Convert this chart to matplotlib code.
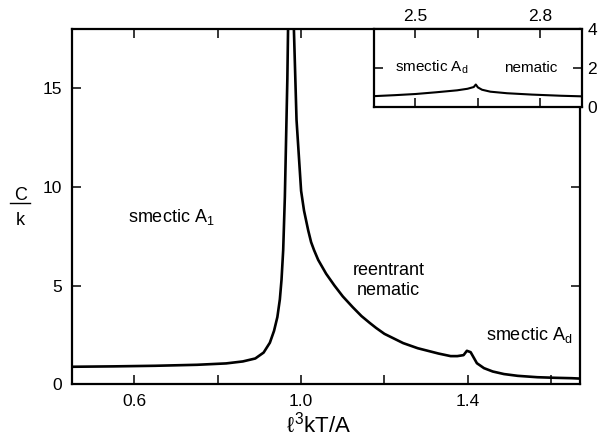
import matplotlib
matplotlib.use("Agg")
import matplotlib.pyplot as plt
from matplotlib.lines import Line2D

plt.rcParams['font.family'] = ['Liberation Sans', 'DejaVu Sans']
plt.rcParams['mathtext.fontset'] = 'custom'
plt.rcParams['mathtext.rm'] = 'Liberation Sans'
plt.rcParams['mathtext.it'] = 'Liberation Sans'
plt.rcParams['mathtext.bf'] = 'Liberation Sans:bold'

# specific heat, low-T side of the A1 -> reentrant nematic peak
t_low = [0.45, 0.55, 0.65, 0.75, 0.82, 0.86, 0.89, 0.91, 0.925, 0.935,
         0.943, 0.949, 0.953, 0.957, 0.961, 0.964, 0.967, 0.969]
c_low = [0.88, 0.90, 0.93, 0.98, 1.05, 1.15, 1.30, 1.60, 2.10, 2.70,
         3.40, 4.30, 5.30, 6.80, 9.50, 12.5, 15.5, 18.5]

# high-T side: reentrant nematic, small bump at the N -> Ad transition
t_high = [0.982, 0.989, 1.000, 1.007, 1.017, 1.024, 1.031, 1.041, 1.06, 1.08,
          1.10, 1.124, 1.145, 1.165, 1.18, 1.20, 1.245, 1.28, 1.33, 1.359,
          1.375, 1.390, 1.398, 1.407, 1.422, 1.439, 1.46, 1.487, 1.52, 1.567,
          1.61, 1.65, 1.67]
c_high = [18.5, 13.4, 9.8, 8.8, 7.8, 7.2, 6.8, 6.3, 5.6, 5.0,
          4.45, 3.9, 3.45, 3.1, 2.85, 2.55, 2.08, 1.82, 1.55, 1.42,
          1.42, 1.47, 1.69, 1.62, 1.06, 0.81, 0.64, 0.51, 0.42, 0.35,
          0.32, 0.30, 0.28]

# inset: smectic Ad -> nematic
t_ins = [2.40, 2.45, 2.50, 2.55, 2.60, 2.625, 2.64, 2.645,
         2.65, 2.66, 2.68, 2.72, 2.78, 2.85, 2.90]
c_ins = [0.55, 0.60, 0.66, 0.75, 0.85, 0.93, 1.02, 1.15,
         1.00, 0.88, 0.78, 0.70, 0.63, 0.57, 0.54]

fig = plt.figure(figsize=(6, 4.36), dpi=100)
ax = fig.add_axes([0.12, 0.119, 0.847, 0.814])

ax.plot(t_low, c_low, color='black', lw=1.9, solid_capstyle='butt')
ax.plot(t_high, c_high, color='black', lw=1.9, solid_capstyle='butt',
        solid_joinstyle='round')
ax.set_xlim(0.45, 1.67)
ax.set_ylim(0, 18)

ax.set_xticks([0.6, 0.8, 1.0, 1.2, 1.4, 1.6])
ax.set_xticklabels(['0.6', '', '1.0', '', '1.4', ''])
ax.set_yticks([0, 5, 10, 15])
ax.set_yticklabels(['0', '5', '10', '15'])
ax.tick_params(direction='in', length=6.5, width=1.1, labelsize=12.5,
               top=True, right=True, pad=7)
for s in ax.spines.values():
    s.set_linewidth(1.6)

txt = 13
ax.text(0.585, 8.2, r'smectic A$_1$', fontsize=txt, ha='left', va='baseline')
ax.text(1.21, 4.5, 'reentrant\nnematic', fontsize=txt, ha='center', va='baseline',
        linespacing=1.25)
ax.text(1.444, 2.23, r'smectic A$_\mathrm{d}$', fontsize=txt, ha='left', va='baseline')

# axis labels
fig.text(0.532, 0.008, r'$\ell^3$kT/A', fontsize=16, ha='center', va='baseline')
fig.text(0.034, 0.541, 'C', fontsize=13, ha='center', va='baseline')
fig.text(0.034, 0.484, 'k', fontsize=13, ha='center', va='baseline')
fig.add_artist(Line2D([0.016, 0.05], [0.534, 0.534], color='black', lw=1.0,
                      transform=fig.transFigure))

# inset
axi = fig.add_axes([0.623, 0.755, 0.347, 0.178])
axi.plot(t_ins, c_ins, color='black', lw=1.5)
axi.set_xlim(2.4, 2.9)
axi.set_ylim(0, 4)
axi.set_xticks([2.5, 2.65, 2.8])
axi.set_xticklabels(['2.5', '', '2.8'])
axi.set_yticks([0, 2, 4])
axi.tick_params(direction='in', length=6.5, width=1.1, labelsize=12.5,
                top=True, right=True, bottom=True, left=True,
                labeltop=True, labelbottom=False, labelright=True,
                labelleft=False, pad=4)
for s in axi.spines.values():
    s.set_linewidth(1.6)
axi.text(2.45, 1.8, r'smectic A$_\mathrm{d}$', fontsize=11, ha='left', va='baseline')
axi.text(2.712, 1.8, 'nematic', fontsize=11, ha='left', va='baseline')

fig.savefig('out.png', dpi=100)
